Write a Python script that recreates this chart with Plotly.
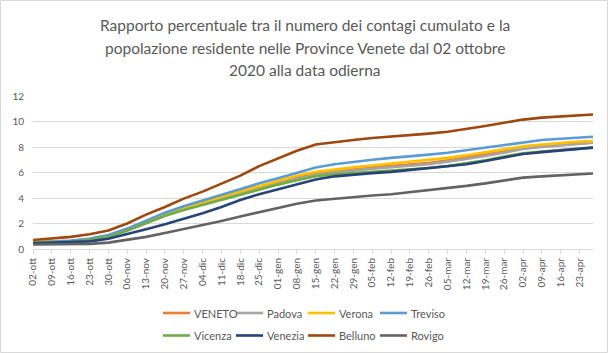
import plotly.graph_objects as go
import pandas as pd

dates = pd.date_range("2020-10-02", "2021-04-23", freq="7D").strftime("%Y-%m-%d").tolist() + ["2021-04-28"]
tick_dates = pd.date_range("2020-10-02", "2021-04-23", freq="7D").strftime("%Y-%m-%d").tolist()
tick_labels = ["02-ott", "09-ott", "16-ott", "23-ott", "30-ott", "06-nov", "13-nov", "20-nov", "27-nov",
               "04-dic", "11-dic", "18-dic", "25-dic", "01-gen", "08-gen", "15-gen", "22-gen", "29-gen",
               "05-feb", "12-feb", "19-feb", "26-feb", "05-mar", "12-mar", "19-mar", "26-mar",
               "02-apr", "09-apr", "16-apr", "23-apr"]
title_lines = ["Rapporto percentuale tra il numero dei contagi cumulato e la",
               "popolazione residente nelle Province Venete dal 02 ottobre",
               "2020 alla data odierna"]

veneto  = [0.55,0.6,0.65,0.8,1.05,1.5,2.1,2.65,3.15,3.55,4.0,4.4,4.8,5.2,5.6,5.9,6.1,6.25,6.4,6.5,6.6,6.75,6.95,7.15,7.4,7.65,7.9,8.05,8.18,8.3,8.36]
padova  = [0.5,0.55,0.6,0.75,1.0,1.45,2.05,2.6,3.1,3.5,3.95,4.35,4.7,5.1,5.5,5.8,6.0,6.15,6.3,6.4,6.5,6.65,6.85,7.05,7.3,7.55,7.85,8.0,8.14,8.26,8.33]
verona  = [0.5,0.55,0.6,0.75,1.0,1.5,2.15,2.7,3.2,3.65,4.1,4.5,4.9,5.3,5.75,6.05,6.25,6.4,6.55,6.7,6.8,6.95,7.15,7.35,7.6,7.85,8.05,8.2,8.32,8.42,8.46]
treviso = [0.5,0.55,0.65,0.8,1.1,1.6,2.25,2.85,3.35,3.8,4.25,4.75,5.15,5.55,6.0,6.4,6.65,6.85,7.0,7.15,7.25,7.4,7.55,7.75,7.95,8.15,8.4,8.55,8.65,8.75,8.8]
vicenza = [0.5,0.5,0.55,0.7,0.95,1.45,2.05,2.6,3.05,3.45,3.9,4.3,4.65,5.05,5.4,5.7,5.85,5.95,6.05,6.12,6.22,6.35,6.5,6.7,6.95,7.25,7.5,7.65,7.78,7.9,7.95]
venezia = [0.45,0.5,0.5,0.6,0.8,1.15,1.55,1.95,2.35,2.8,3.3,3.85,4.3,4.7,5.05,5.45,5.7,5.85,5.95,6.05,6.2,6.3,6.45,6.65,6.9,7.2,7.45,7.6,7.72,7.88,7.95]
belluno = [0.7,0.8,0.95,1.15,1.45,2.0,2.7,3.3,3.95,4.5,5.1,5.75,6.5,7.1,7.7,8.2,8.4,8.55,8.7,8.8,8.9,9.05,9.2,9.4,9.65,9.9,10.15,10.3,10.4,10.5,10.55]
rovigo  = [0.35,0.35,0.35,0.4,0.5,0.7,0.95,1.25,1.55,1.85,2.2,2.55,2.9,3.2,3.55,3.8,3.95,4.1,4.2,4.3,4.45,4.6,4.75,4.95,5.15,5.4,5.6,5.7,5.8,5.88,5.92]

names = ["VENETO", "Padova", "Verona", "Treviso", "Vicenza", "Venezia", "Belluno", "Rovigo"]
values = [veneto, padova, verona, treviso, vicenza, venezia, belluno, rovigo]
colors = ["#ED7D31", "#A5A5A5", "#FFC000", "#5B9BD5", "#70AD47", "#264478", "#9E480E", "#636363"]

fig = go.Figure()
for name, vals, color in zip(names, values, colors):
    fig.add_trace(go.Scatter(x=dates, y=vals, mode="lines", name=name,
                             line=dict(color=color, width=2.6), showlegend=False))

W, H = 608, 353
ml, mr, mt, mb = 33, 15, 96, 104
pw, ph = W - ml - mr, H - mt - mb

def py(pix):  # figure pixel row -> paper y
    return (H - mb - pix) / ph

def px(pix):  # figure pixel column -> paper x
    return (pix - ml) / pw

txt = "#595959"
fig.update_layout(
    width=W, height=H,
    margin=dict(l=ml, r=mr, t=mt, b=mb, autoexpand=False),
    paper_bgcolor="white", plot_bgcolor="white",
    font=dict(family="Lato", color=txt, size=10),
    xaxis=dict(type="date", range=["2020-10-02", "2021-04-28"], automargin=False,
               tickmode="array", tickvals=tick_dates, ticktext=tick_labels,
               tickangle=-90, showgrid=False, showline=True, linecolor="#D9D9D9",
               ticks="outside", ticklen=4, tickcolor="#D9D9D9",
               tickfont=dict(size=10, color=txt, family="Lato")),
    yaxis=dict(range=[0, 12], dtick=2, showgrid=True, gridcolor="#D9D9D9", automargin=False,
               zeroline=False, showline=False, ticks="",
               tickfont=dict(size=10, color=txt, family="Lato"), ticklabelstandoff=8),
    showlegend=False,
)

# manual legend (2 rows x 4 columns)
col_x = [163, 236, 308, 380]
row_y = [313, 335.5]
for i, (name, color) in enumerate(zip(names, colors)):
    x0 = col_x[i % 4]
    y0 = row_y[i // 4]
    fig.add_shape(type="line", xref="paper", yref="paper",
                  x0=px(x0), x1=px(x0 + 27), y0=py(y0), y1=py(y0),
                  line=dict(color=color, width=2.6))
    fig.add_annotation(text=name, xref="paper", yref="paper", x=px(x0 + 29), y=py(y0),
                       xanchor="left", yanchor="middle", showarrow=False,
                       font=dict(family="Lato", size=11, color=txt))

for line, ypix in zip(title_lines, [25, 47.5, 70]):
    fig.add_annotation(text=line, xref="paper", yref="paper", x=px(305), y=py(ypix),
                       xanchor="center", yanchor="middle", showarrow=False,
                       font=dict(family="Lato", size=15.5, color=txt))

fig.add_shape(type="rect", xref="paper", yref="paper",
              x0=px(0.5), x1=px(W - 0.5),
              y0=py(H - 0.5), y1=py(0.5),
              line=dict(color="#D9D9D9", width=1), layer="below")

fig.write_html("out.html")
